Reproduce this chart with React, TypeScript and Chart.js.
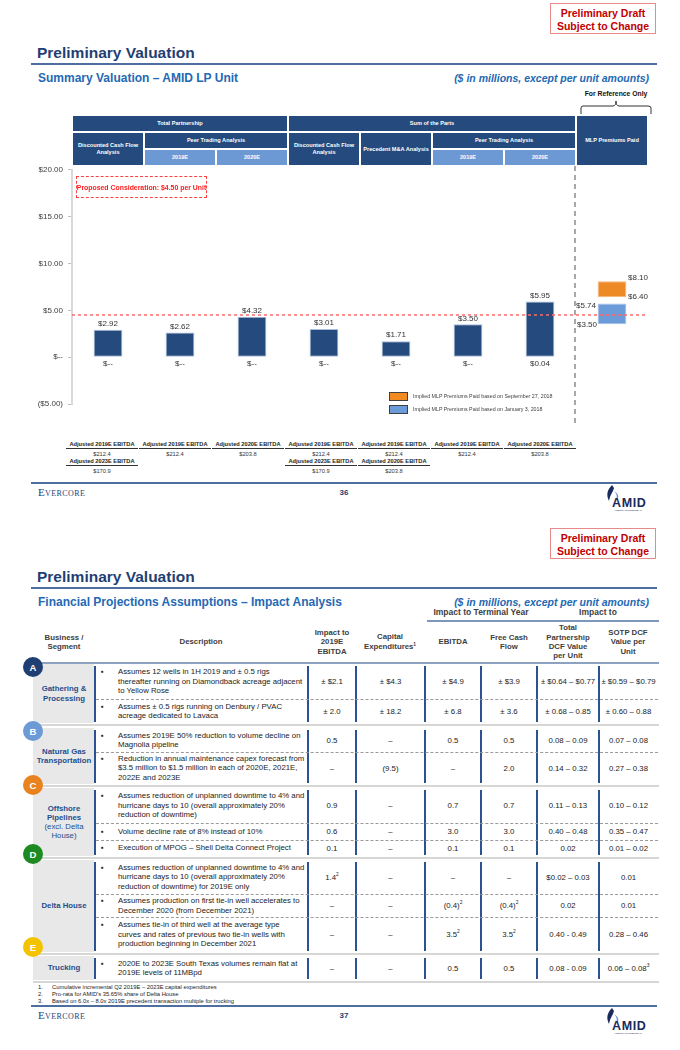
import React, { useEffect, useRef } from 'react';
import { Chart, registerables } from 'chart.js';

Chart.register(...registerables);

const FONT = '"Liberation Sans", Arial, Helvetica, sans-serif';
const SERIF = '"Liberation Serif", "Times New Roman", serif';
const NAVY = '#1F3F73';
const SUB_BLUE = '#2469B3';
const DRAFT_RED = '#C00000';
const TEXT = '#333333';

// ---------- chart data (slide 36) ----------
const categories = [
  'Total Partnership DCF',
  'Total Partnership Peer 2019E',
  'Total Partnership Peer 2020E',
  'SOTP DCF',
  'Precedent M&A',
  'SOTP Peer 2019E',
  'SOTP Peer 2020E',
  'MLP Premiums Paid',
];
const lowValues = [0, 0, 0, 0, 0, 0, 0.04];
const highValues = [2.92, 2.62, 4.32, 3.01, 1.71, 3.5, 5.95];
const premiumSep27 = [6.4, 8.1];
const premiumJan3 = [3.5, 5.74];
const proposedConsideration = 4.5;
const yMin = -5;
const yMax = 20;
const yStep = 5;

const bandTop = ['Total Partnership', 'Sum of the Parts', 'MLP Premiums Paid'];
const bandMid = ['Discounted Cash Flow Analysis', 'Peer Trading Analysis', 'Discounted Cash Flow Analysis', 'Precedent M&A Analysis', 'Peer Trading Analysis'];
const bandYears = ['2019E', '2020E', '2019E', '2020E'];

const legendLabels = [
  'Implied MLP Premiums Paid based on September 27, 2018',
  'Implied MLP Premiums Paid based on January 3, 2018',
];

const ebitdaHead1 = ['Adjusted 2019E EBITDA', 'Adjusted 2019E EBITDA', 'Adjusted 2020E EBITDA', 'Adjusted 2019E EBITDA', 'Adjusted 2019E EBITDA', 'Adjusted 2019E EBITDA', 'Adjusted 2020E EBITDA'];
const ebitdaVal1 = ['$212.4', '$212.4', '$203.8', '$212.4', '$212.4', '$212.4', '$203.8'];
const ebitdaHead2 = ['Adjusted 2023E EBITDA', '', '', 'Adjusted 2023E EBITDA', 'Adjusted 2020E EBITDA', '', ''];
const ebitdaVal2 = ['$170.9', '', '', '$170.9', '$203.8', '', ''];

// ---------- table data (slide 37) ----------
const segmentLetters = ['A', 'B', 'C', 'D', 'E'];
const segmentNames = [
  ['Gathering &', 'Processing'],
  ['Natural Gas', 'Transportation'],
  ['Offshore', 'Pipelines', '(excl. Delta', 'House)'],
  ['Delta House'],
  ['Trucking'],
];
const segmentBoldLines = [2, 2, 2, 1, 1];
const rowSegment = [0, 0, 1, 1, 2, 2, 2, 3, 3, 3, 4];
const descriptions = [
  ['Assumes 12 wells in 1H 2019 and ± 0.5 rigs', 'thereafter running on Diamondback acreage adjacent', 'to Yellow Rose'],
  ['Assumes ± 0.5 rigs running on Denbury / PVAC', 'acreage dedicated to Lavaca'],
  ['Assumes 2019E 50% reduction to volume decline on', 'Magnolia pipeline'],
  ['Reduction in annual maintenance capex forecast from', '$3.5 million to $1.5 million in each of 2020E, 2021E,', '2022E and 2023E'],
  ['Assumes reduction of unplanned downtime to 4% and', 'hurricane days to 10 (overall approximately 20%', 'reduction of downtime)'],
  ['Volume decline rate of 8% instead of 10%'],
  ['Execution of MPOG – Shell Delta Connect Project'],
  ['Assumes reduction of unplanned downtime to 4% and', 'hurricane days to 10 (overall approximately 20%', 'reduction of downtime) for 2019E only'],
  ['Assumes production on first tie-in well accelerates to', 'December 2020 (from December 2021)'],
  ['Assumes tie-in of third well at the average type', 'curves and rates of previous two tie-in wells with', 'production beginning in December 2021'],
  ['2020E to 2023E South Texas volumes remain flat at', '2019E levels of 11MBpd'],
];
const impact2019Ebitda = ['± $2.1', '± 2.0', '0.5', '–', '0.9', '0.6', '0.1', '1.4^2', '–', '–', '–'];
const capitalExpenditures = ['± $4.3', '± 18.2', '–', '(9.5)', '–', '–', '–', '–', '–', '–', '–'];
const terminalEbitda = ['± $4.9', '± 6.8', '0.5', '–', '0.7', '3.0', '0.1', '–', '(0.4)^2', '3.5^2', '0.5'];
const terminalFcf = ['± $3.9', '± 3.6', '0.5', '2.0', '0.7', '3.0', '0.1', '–', '(0.4)^2', '3.5^2', '0.5'];
const totalDcfPerUnit = ['± $0.64 – $0.77', '± 0.68 – 0.85', '0.08 – 0.09', '0.14 – 0.32', '0.11 – 0.13', '0.40 – 0.48', '0.02', '$0.02 – 0.03', '0.02', '0.40 - 0.49', '0.08 - 0.09'];
const sotpDcfPerUnit = ['± $0.59 – $0.79', '± 0.60 – 0.88', '0.07 – 0.08', '0.27 – 0.38', '0.10 – 0.12', '0.35 – 0.47', '0.01 – 0.02', '0.01', '0.01', '0.28 – 0.46', '0.06 – 0.08^3'];
const tableHeaders = [
  ['Business /', 'Segment'],
  ['Description'],
  ['Impact to', '2019E', 'EBITDA'],
  ['Capital', 'Expenditures^1'],
  ['EBITDA'],
  ['Free Cash', 'Flow'],
  ['Total', 'Partnership', 'DCF Value', 'per Unit'],
  ['SOTP DCF', 'Value per', 'Unit'],
];
const footnotes = [
  'Cumulative incremental Q2 2019E – 2023E capital expenditures',
  "Pro-rata for AMID's 35.65% share of Delta House",
  'Based on 6.0x – 8.0x 2019E precedent transaction multiple for trucking',
];

// ---------- helpers ----------
const money = (v: number) => (v === 0 ? '$--' : '$' + v.toFixed(2));

function Sup({ t }: { t: string }) {
  const [a, b] = t.split('^');
  return (
    <>
      {a}
      {b ? <span style={{ fontSize: '0.62em', position: 'relative', top: '-0.55em' }}>{b}</span> : null}
    </>
  );
}

function T(props: any) {
  const { x, y, s, w = 600, align = 'left', style = {}, children } = props;
  const left = align === 'left' ? x : align === 'center' ? x - w / 2 : x - w;
  return (
    <div
      style={{
        position: 'absolute',
        left,
        top: y - s * 0.6,
        width: w,
        height: s * 1.2,
        lineHeight: `${s * 1.2}px`,
        fontSize: s,
        textAlign: align,
        whiteSpace: 'nowrap',
        fontFamily: FONT,
        ...style,
      }}
    >
      {children}
    </div>
  );
}

function DraftBox({ top }: { top: number }) {
  return (
    <div
      style={{
        position: 'absolute',
        left: 550,
        top,
        width: 106,
        height: 31,
        boxSizing: 'border-box',
        border: '1.5px solid #E88A8A',
        color: DRAFT_RED,
        fontFamily: FONT,
        fontWeight: 'bold',
        fontSize: 10.5,
        lineHeight: '12.5px',
        textAlign: 'center',
        paddingTop: 3,
      }}
    >
      Preliminary Draft
      <br />
      Subject to Change
    </div>
  );
}

function AmidLogo({ left, top }: { left: number; top: number }) {
  return (
    <div style={{ position: 'absolute', left, top, width: 54, height: 26 }}>
      <svg width="54" height="26" style={{ position: 'absolute', left: 0, top: 0 }}>
        <path d="M7 0 C2 5 1 10 4 16 C5 10 8 7 9 3 Z" fill="#1B2A5C" />
        <path d="M9 6 C12 9 13 12 10 16 C15 13 14 9 9 6 Z" fill="#6A8FC8" />
      </svg>
      <div
        style={{
          position: 'absolute',
          left: 7,
          top: 12,
          fontSize: 12.5,
          fontWeight: 900,
          color: '#1B2A5C',
          fontFamily: FONT,
          letterSpacing: 0.6,
          lineHeight: '13px',
        }}
      >
        AMID
      </div>
      <div style={{ position: 'absolute', left: 9, top: 24, fontSize: 2.4, color: '#1B2A5C', fontFamily: FONT, whiteSpace: 'nowrap' }}>
        AMERICAN MIDSTREAM
      </div>
    </div>
  );
}

function SlideHeader({ top, subtitle }: { top: number; subtitle: string }) {
  return (
    <>
      <T x={37} y={top} s={15.5} style={{ fontWeight: 'bold', color: NAVY }}>
        Preliminary Valuation
      </T>
      <div style={{ position: 'absolute', left: 31, top: top + 10, width: 626, height: 2, background: '#4D6E9E' }} />
      <T x={38} y={top + 25} s={12} style={{ fontWeight: 'bold', color: SUB_BLUE }}>
        {subtitle}
      </T>
      <T x={649} y={top + 25} s={10.5} align="right" style={{ fontWeight: 'bold', fontStyle: 'italic', color: SUB_BLUE }}>
        ($ in millions, except per unit amounts)
      </T>
    </>
  );
}

function Footer({ top, page }: { top: number; page: string }) {
  return (
    <>
      <div style={{ position: 'absolute', left: 31, top, width: 626, height: 2, background: '#4D6E9E' }} />
      <T x={38} y={top + 11} s={11} style={{ fontFamily: SERIF, fontVariant: 'small-caps', color: NAVY, letterSpacing: 0.4 }}>
        Evercore
      </T>
      <T x={344} y={top + 11} s={8} w={40} align="center" style={{ fontWeight: 'bold', color: NAVY }}>
        {page}
      </T>
      <AmidLogo left={605} top={top + 3} />
    </>
  );
}

// ---------- chart plugin ----------
const annotationPlugin = {
  id: 'annotations',
  afterDatasetsDraw(chart: any) {
    const { ctx, chartArea, scales } = chart;
    const x = scales.x;
    const y = scales.y;
    ctx.save();
    // proposed consideration line
    const yp = y.getPixelForValue(proposedConsideration);
    ctx.strokeStyle = '#FF6B6B';
    ctx.lineWidth = 1.5;
    ctx.setLineDash([3, 3]);
    ctx.beginPath();
    ctx.moveTo(chartArea.left, yp);
    ctx.lineTo(chartArea.right, yp);
    ctx.stroke();
    // separator before MLP premiums column
    const xv = (x.getPixelForValue(6) + x.getPixelForValue(7)) / 2 - 1;
    ctx.strokeStyle = '#8C8C8C';
    ctx.lineWidth = 1.5;
    ctx.setLineDash([5, 4]);
    ctx.beginPath();
    ctx.moveTo(xv, 6);
    ctx.lineTo(xv, 263);
    ctx.stroke();
    ctx.setLineDash([]);
    // bar labels
    ctx.font = `8px ${FONT}`;
    ctx.fillStyle = TEXT;
    ctx.textAlign = 'center';
    ctx.textBaseline = 'middle';
    highValues.forEach((hv, i) => {
      const xc = x.getPixelForValue(i);
      ctx.fillText(money(hv), xc, y.getPixelForValue(hv) - 6);
      ctx.fillText(money(lowValues[i]), xc, y.getPixelForValue(lowValues[i]) + 7);
    });
    const xm = x.getPixelForValue(7);
    ctx.textAlign = 'left';
    ctx.fillText(money(premiumSep27[1]), xm + 16, y.getPixelForValue(premiumSep27[1]) - 3);
    ctx.fillText(money(premiumSep27[0]), xm + 16, y.getPixelForValue(premiumSep27[0]));
    ctx.textAlign = 'right';
    ctx.fillText(money(premiumJan3[1]), xm - 16, y.getPixelForValue(premiumJan3[1]) + 2);
    ctx.fillText(money(premiumJan3[0]), xm - 15, y.getPixelForValue(premiumJan3[0]));
    ctx.restore();
  },
};

function ValuationChart() {
  const ref = useRef<HTMLCanvasElement>(null);
  useEffect(() => {
    const barCommon = {
      grouped: false,
      barPercentage: 0.4,
      categoryPercentage: 1,
      borderWidth: 1,
      borderSkipped: false,
    };
    const chart = new Chart(ref.current as HTMLCanvasElement, {
      type: 'bar',
      data: {
        labels: categories,
        datasets: [
          {
            ...barCommon,
            data: categories.map((_, i) => (i < highValues.length ? [lowValues[i], highValues[i]] : null)),
            backgroundColor: '#244A7E',
            borderColor: '#A9BEDD',
          },
          {
            ...barCommon,
            data: categories.map((_, i) => (i === 7 ? premiumSep27 : null)),
            backgroundColor: '#EE8A25',
            borderColor: '#F6B57A',
          },
          {
            ...barCommon,
            data: categories.map((_, i) => (i === 7 ? premiumJan3 : null)),
            backgroundColor: '#6B9BD8',
            borderColor: '#A4C1E8',
          },
        ] as any,
      },
      options: {
        responsive: false,
        animation: false,
        devicePixelRatio: 1,
        layout: { padding: { left: 0, right: 32, top: 9, bottom: 26 } },
        plugins: { legend: { display: false }, tooltip: { enabled: false } },
        scales: {
          x: { display: false },
          y: {
            min: yMin,
            max: yMax,
            afterFit: (s: any) => {
              s.width = 72;
            },
            ticks: {
              stepSize: yStep,
              padding: 5,
              color: '#404040',
              font: { size: 8, family: FONT },
              callback: (v: any) =>
                v === 0 ? '$--' : v < 0 ? `($${Math.abs(v).toFixed(2)})` : `$${Number(v).toFixed(2)}`,
            },
            grid: { drawOnChartArea: false, drawTicks: true, tickLength: 4, color: '#BFBFBF' },
            border: { display: true, color: '#D9D9D9', width: 2 },
          },
        },
      } as any,
      plugins: [annotationPlugin],
    });
    return () => chart.destroy();
  }, []);
  return (
    <canvas
      ref={ref}
      width={680}
      height={270}
      style={{ position: 'absolute', left: 0, top: 160, width: 680, height: 270 }}
    />
  );
}

function Band({ x0, x1, y0, y1, light, children }: any) {
  return (
    <div
      style={{
        position: 'absolute',
        left: x0,
        top: y0,
        width: x1 - x0,
        height: y1 - y0,
        boxSizing: 'border-box',
        border: '1px solid #FFFFFF',
        background: light ? '#6C98D4' : '#244A7E',
        color: '#FFFFFF',
        fontFamily: FONT,
        fontWeight: 'bold',
        fontSize: 5.6,
        lineHeight: '7px',
        display: 'flex',
        alignItems: 'center',
        justifyContent: 'center',
        textAlign: 'center',
        padding: '0 1px',
      }}
    >
      {children}
    </div>
  );
}

const ebitdaCenters = [102, 175, 248, 321, 394, 467, 540];

function Slide36() {
  return (
    <>
      <DraftBox top={3} />
      <SlideHeader top={53} subtitle="Summary Valuation – AMID LP Unit" />
      <T x={616} y={94} s={6.8} w={80} align="center" style={{ fontWeight: 'bold', color: '#111' }}>
        For Reference Only
      </T>
      <svg width={680} height={20} style={{ position: 'absolute', left: 0, top: 98 }}>
        <path
          d="M581 16 L581 10 Q581 8 583 8 L613 8 Q616 8 616 3 Q616 8 619 8 L648 8 Q651 8 651 10 L651 16"
          fill="none"
          stroke="#333"
          strokeWidth={1}
        />
      </svg>

      {/* analysis bands */}
      <Band x0={72} x1={288} y0={115} y1={132}>{bandTop[0]}</Band>
      <Band x0={288} x1={576} y0={115} y1={132}>{bandTop[1]}</Band>
      <Band x0={576} x1={648} y0={115} y1={166}>{bandTop[2]}</Band>
      <Band x0={72} x1={144} y0={132} y1={166}>{bandMid[0]}</Band>
      <Band x0={144} x1={288} y0={132} y1={149}>{bandMid[1]}</Band>
      <Band x0={288} x1={360} y0={132} y1={166}>{bandMid[2]}</Band>
      <Band x0={360} x1={432} y0={132} y1={166}>{bandMid[3]}</Band>
      <Band x0={432} x1={576} y0={132} y1={149}>{bandMid[4]}</Band>
      <Band x0={144} x1={216} y0={149} y1={166} light>{bandYears[0]}</Band>
      <Band x0={216} x1={288} y0={149} y1={166} light>{bandYears[1]}</Band>
      <Band x0={432} x1={504} y0={149} y1={166} light>{bandYears[2]}</Band>
      <Band x0={504} x1={576} y0={149} y1={166} light>{bandYears[3]}</Band>

      <ValuationChart />

      {/* proposed consideration box */}
      <div
        style={{
          position: 'absolute',
          left: 76,
          top: 176,
          width: 131,
          height: 22,
          boxSizing: 'border-box',
          border: '1px dashed #FF4040',
          color: '#FF1A1A',
          fontFamily: FONT,
          fontWeight: 'bold',
          fontSize: 6.9,
          display: 'flex',
          alignItems: 'center',
          justifyContent: 'center',
          whiteSpace: 'nowrap',
        }}
      >
        Proposed Consideration: $4.50 per Unit
      </div>

      {/* legend */}
      {legendLabels.map((l, i) => (
        <React.Fragment key={l}>
          <div
            style={{
              position: 'absolute',
              left: 389,
              top: 392 + i * 13,
              width: 19,
              height: 9,
              boxSizing: 'border-box',
              border: '1px solid #404040',
              background: i === 0 ? '#F28A22' : '#6B9BD8',
            }}
          />
          <T x={413} y={396.5 + i * 13} s={5.3} style={{ color: '#404040' }}>
            {l}
          </T>
        </React.Fragment>
      ))}

      {/* EBITDA basis */}
      {ebitdaCenters.map((cx, i) => (
        <React.Fragment key={i}>
          <div
            style={{
              position: 'absolute',
              left: cx - 36,
              top: 440,
              width: 72,
              height: 8,
              borderBottom: '1px solid #333',
              fontFamily: FONT,
              fontWeight: 'bold',
              fontSize: 5.7,
              lineHeight: '8px',
              textAlign: 'center',
              color: '#222',
              whiteSpace: 'nowrap',
            }}
          >
            {ebitdaHead1[i]}
          </div>
          <T x={cx} y={454} s={5.7} w={72} align="center" style={{ color: '#333' }}>
            {ebitdaVal1[i]}
          </T>
          {ebitdaHead2[i] ? (
            <>
              <div
                style={{
                  position: 'absolute',
                  left: cx - 36,
                  top: 457,
                  width: 72,
                  height: 8,
                  borderBottom: '1px solid #333',
                  fontFamily: FONT,
                  fontWeight: 'bold',
                  fontSize: 5.7,
                  lineHeight: '8px',
                  textAlign: 'center',
                  color: '#222',
                  whiteSpace: 'nowrap',
                }}
              >
                {ebitdaHead2[i]}
              </div>
              <T x={cx} y={471} s={5.7} w={72} align="center" style={{ color: '#333' }}>
                {ebitdaVal2[i]}
              </T>
            </>
          ) : null}
        </React.Fragment>
      ))}

      <Footer top={482} page="36" />
    </>
  );
}

// ---------- table layout ----------
const sectionRanges = [
  [664, 723],
  [728, 784],
  [788, 856],
  [860, 952],
  [956, 980],
];
const rowRanges = [
  [664, 699],
  [699, 723],
  [728, 752],
  [752, 784],
  [788, 823],
  [823, 840],
  [840, 856],
  [860, 894],
  [894, 917],
  [917, 952],
  [956, 980],
];
const colEdges = [95, 308, 356, 425, 481, 537, 599, 658];
const circleYs = [667, 731, 785, 854, 947];
const circleColors = ['#1F3F73', '#6C9AD6', '#E9831F', '#1E8A22', '#F3C300'];
const headerCenters = [64, 201, 332, 390, 453, 509, 568, 628];

function Slide37() {
  return (
    <>
      <DraftBox top={528} />
      <SlideHeader top={577} subtitle="Financial Projections Assumptions – Impact Analysis" />

      <T x={481} y={612} s={8.5} w={140} align="center" style={{ fontWeight: 'bold', color: '#404040' }}>
        Impact to Terminal Year
      </T>
      <T x={598} y={612} s={8.5} w={100} align="center" style={{ fontWeight: 'bold', color: '#404040' }}>
        Impact to
      </T>
      <div style={{ position: 'absolute', left: 427, top: 620, width: 232, height: 1.5, background: '#7F97B8' }} />

      {tableHeaders.map((lines, i) => (
        <div
          key={i}
          style={{
            position: 'absolute',
            left: headerCenters[i] - 40,
            top: 622,
            width: 80,
            height: 40,
            display: 'flex',
            flexDirection: 'column',
            justifyContent: 'center',
            alignItems: 'center',
            fontFamily: FONT,
            fontWeight: 'bold',
            fontSize: 7.8,
            lineHeight: '9.4px',
            color: '#404040',
            whiteSpace: 'nowrap',
          }}
        >
          {lines.map((l) => (
            <div key={l}>
              <Sup t={l} />
            </div>
          ))}
        </div>
      ))}
      <div style={{ position: 'absolute', left: 31, top: 662, width: 628, height: 2, background: '#8DA2C0' }} />

      {/* sections */}
      {sectionRanges.map(([s0, s1], si) => (
        <React.Fragment key={'s' + si}>
          <div style={{ position: 'absolute', left: 33, top: s0, width: 61, height: s1 - s0, background: '#E8E8E8' }} />
          <div
            style={{
              position: 'absolute',
              left: 33,
              top: s0,
              width: 62,
              height: s1 - s0,
              display: 'flex',
              flexDirection: 'column',
              justifyContent: 'center',
              alignItems: 'center',
              fontFamily: FONT,
              fontSize: 7.8,
              lineHeight: '9.2px',
              color: '#1F4E8C',
              whiteSpace: 'nowrap',
            }}
          >
            {segmentNames[si].map((l, li) => (
              <div key={l} style={{ fontWeight: li < segmentBoldLines[si] ? 'bold' : 'normal' }}>
                {l}
              </div>
            ))}
          </div>
          {colEdges.slice(0, 7).map((cx) => (
            <div
              key={cx}
              style={{ position: 'absolute', left: cx - 1, top: s0 + 2, width: 2.2, height: s1 - s0 - 3, background: '#2B5394' }}
            />
          ))}
          <div style={{ position: 'absolute', left: 33, top: s1 + 1, width: 626, height: 2, background: '#D6D6D6' }} />
        </React.Fragment>
      ))}

      {rowRanges.map(([r0, r1], i) => {
        const vals = [
          impact2019Ebitda[i],
          capitalExpenditures[i],
          terminalEbitda[i],
          terminalFcf[i],
          totalDcfPerUnit[i],
          sotpDcfPerUnit[i],
        ];
        const last = i === rowRanges.length - 1 || rowSegment[i + 1] !== rowSegment[i];
        return (
          <React.Fragment key={'r' + i}>
            <div
              style={{
                position: 'absolute',
                left: 118,
                top: r0,
                width: 190,
                height: r1 - r0,
                display: 'flex',
                alignItems: 'center',
                fontFamily: FONT,
                fontSize: 7.8,
                lineHeight: '9.5px',
                color: '#222',
                whiteSpace: 'nowrap',
              }}
            >
              <div style={{ position: 'relative' }}>
                <span style={{ position: 'absolute', left: -17, top: 0 }}>▪</span>
                {descriptions[i].map((l) => (
                  <div key={l}>{l}</div>
                ))}
              </div>
            </div>
            {vals.map((v, k) => (
              <div
                key={k}
                style={{
                  position: 'absolute',
                  left: colEdges[k + 1],
                  top: r0,
                  width: colEdges[k + 2] - colEdges[k + 1],
                  height: r1 - r0,
                  display: 'flex',
                  alignItems: 'center',
                  justifyContent: 'center',
                  fontFamily: FONT,
                  fontSize: 7.8,
                  color: '#222',
                  whiteSpace: 'nowrap',
                }}
              >
                <Sup t={v} />
              </div>
            ))}
            {!last ? (
              <div style={{ position: 'absolute', left: 96, top: r1, width: 562, height: 0, borderTop: '1px dashed #9A9A9A' }} />
            ) : null}
          </React.Fragment>
        );
      })}

      {segmentLetters.map((l, i) => (
        <div
          key={l}
          style={{
            position: 'absolute',
            left: 23,
            top: circleYs[i] - 10,
            width: 20,
            height: 20,
            borderRadius: '50%',
            background: circleColors[i],
            color: '#FFFFFF',
            fontFamily: FONT,
            fontWeight: 'bold',
            fontSize: 9.5,
            display: 'flex',
            alignItems: 'center',
            justifyContent: 'center',
          }}
        >
          {l}
        </div>
      ))}

      {footnotes.map((f, i) => (
        <React.Fragment key={f}>
          <T x={38} y={987 + i * 7} s={5.8} style={{ color: '#222' }}>
            {i + 1}.
          </T>
          <T x={52} y={987 + i * 7} s={5.8} style={{ color: '#222' }}>
            {f}
          </T>
        </React.Fragment>
      ))}

      <Footer top={1005} page="37" />
    </>
  );
}

export default function App() {
  return (
    <div
      style={{
        position: 'absolute',
        left: 0,
        top: 0,
        width: 680,
        height: 1050,
        overflow: 'hidden',
        background: '#FFFFFF',
        fontFamily: FONT,
      }}
    >
      <Slide36 />
      <Slide37 />
    </div>
  );
}
